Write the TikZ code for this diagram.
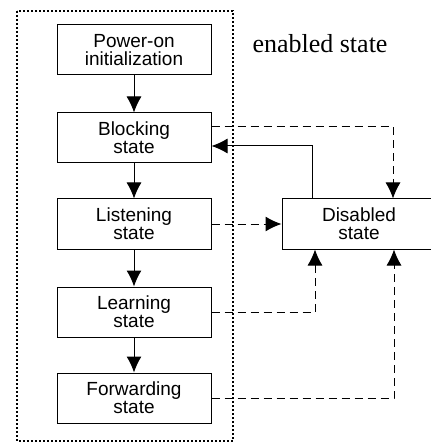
\documentclass[tikz,border=0pt]{standalone}
\usepackage{fontspec}
\setmainfont{Liberation Serif}
\newfontfamily\boxfont{Liberation Sans}
\usetikzlibrary{arrows.meta}

\begin{document}
\begin{tikzpicture}[x=1pt,y=1pt]
\tikzstyle{every node}+=[inner sep=0pt]
\tikzstyle{state}=[draw, line width=1pt, minimum width=154pt, minimum height=50pt, align=center, font=\boxfont\fontsize{19}{18}\selectfont]
\tikzstyle{go}=[line width=1pt, -{Latex[length=16pt,width=15pt]}]
\tikzstyle{fall}=[go, dash pattern={on 8pt off 5pt}]
\useasboundingbox (0,0) rectangle (430,-443);
\draw [line width=2pt, dotted] (17,-11) rectangle (233,-441);
\node (enabled) at (320,-44) {\fontsize{26}{26}\selectfont enabled state};
\node [state] (poweron) at (134,-50) {Power-on\\initialization};
\node [state] (blocking) at (134,-138) {Blocking\\state};
\node [state] (listening) at (134,-224) {Listening\\state};
\node [state] (learning) at (134,-312) {Learning\\state};
\node [state] (forwarding) at (134,-398) {Forwarding\\state};
\node [state] (disabled) at (359,-224) {Disabled\\state};
% the normal sequence
\draw [go] (poweron) -- (blocking);
\draw [go] (blocking) -- (listening);
\draw [go] (listening) -- (learning);
\draw [go] (learning) -- (forwarding);
% to and from disabled
\draw [fall] ([yshift=11pt]blocking.east) -| ([xshift=34pt]disabled.north);
\draw [go] ([xshift=-47pt]disabled.north) |- ([yshift=-8pt]blocking.east);
\draw [fall] (listening) -- (disabled);
\draw [fall] (learning.east) -| ([xshift=-44pt]disabled.south);
\draw [fall] (forwarding.east) -| ([xshift=35pt]disabled.south);
\end{tikzpicture}
\end{document}
